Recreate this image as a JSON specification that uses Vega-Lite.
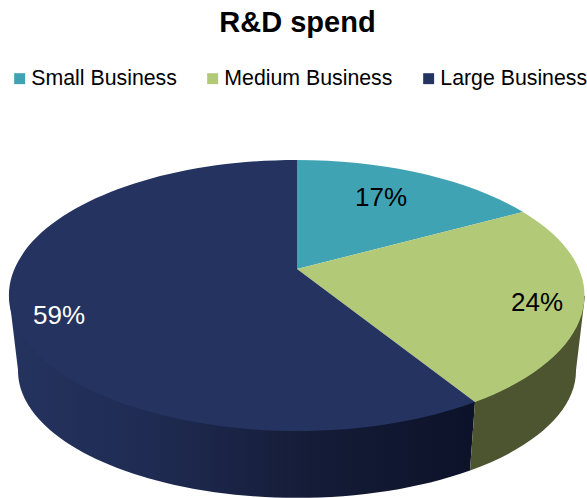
{
  "$schema": "https://vega.github.io/schema/vega-lite/v6.json",
  "width": 587,
  "height": 498,
  "padding": 0,
  "autosize": "none",
  "background": "white",
  "config": {"view": {"stroke": null}, "font": "Liberation Sans"},
  "title": {"text": "R&D spend", "font": "Liberation Sans", "fontSize": 29, "fontWeight": "bold", "color": "#000000", "anchor": "middle", "dx": 4, "offset": -61, "baseline": "alphabetic"},
  "data": {"values": [
    {"segment": "Small Business", "share": 0.17},
    {"segment": "Medium Business", "share": 0.24},
    {"segment": "Large Business", "share": 0.59}
  ]},
  "encoding": {
    "x": {"datum": 0, "type": "quantitative", "axis": null, "scale": {"domain": [-297, 290], "range": [0, 587], "nice": false, "zero": false}},
    "y": {"datum": 0, "type": "quantitative", "axis": null, "scale": {"domain": [-295.5, 202.5], "range": [0, 498], "nice": false, "zero": false}},
    "color": {"field": "segment", "type": "nominal",
      "scale": {"domain": ["Small Business", "Medium Business", "Large Business"], "range": ["#40a3b4", "#b2c978", "#24335f"]},
      "legend": {"title": null, "orient": "none", "legendX": 9, "legendY": 68, "direction": "horizontal", "columns": 3, "columnPadding": 25, "padding": 0,
        "symbolType": "square", "symbolSize": 120, "symbolOpacity": 1, "symbolStrokeWidth": 0, "labelFont": "Liberation Sans", "labelFontSize": 21.3, "labelColor": "#000000", "labelOffset": 1, "labelLimit": 300}}
  },
  "layer": [
    {
      "transform": [{"filter": "datum.segment === 'Large Business'"}],
      "mark": {"type": "point", "filled": true, "opacity": 1, "size": 4, "strokeWidth": 0,
        "shape": "M178,106.5 L-288,0 L-279,74.5 A279,127 0 0 0 173,175 Z"},
      "encoding": {"color": {"value": {"gradient": "linear", "x1": 0, "x2": 1, "y1": 0, "y2": 0, "stops": [
          {"offset": 0, "color": "#24335f"},
          {"offset": 0.3, "color": "#1f2b52"},
          {"offset": 0.65, "color": "#151c38"},
          {"offset": 1, "color": "#0c1228"}
        ]}}}
    },
    {
      "transform": [{"filter": "datum.segment === 'Medium Business'"}],
      "mark": {"type": "point", "filled": true, "opacity": 1, "size": 4, "strokeWidth": 0,
        "shape": "M178,106.5 L173,175 A279,127 0 0 0 279,74.5 L288,0 Z"},
      "encoding": {"color": {"value": "#4c5430"}}
    },
    {
      "transform": [{"filter": "datum.segment === 'Small Business'"}],
      "mark": {"type": "point", "filled": true, "opacity": 1, "size": 4, "strokeWidth": 0,
        "shape": "M0,-26.5 L0,-135.5 A288,135.5 0 0 1 226,-83.5 Z"}
    },
    {
      "transform": [{"filter": "datum.segment === 'Medium Business'"}],
      "mark": {"type": "point", "filled": true, "opacity": 1, "size": 4, "strokeWidth": 0,
        "shape": "M0,-26.5 L226,-83.5 A288,135.5 0 0 1 178,106.5 Z"}
    },
    {
      "transform": [{"filter": "datum.segment === 'Large Business'"}],
      "mark": {"type": "point", "filled": true, "opacity": 1, "size": 4, "strokeWidth": 0,
        "shape": "M0,-26.5 L178,106.5 A288,135.5 0 1 1 0,-135.5 Z"}
    },
    {
      "transform": [{"filter": "datum.segment === 'Small Business'"}],
      "mark": {"type": "text", "font": "Liberation Sans", "fontSize": 26, "align": "center", "baseline": "middle"},
      "encoding": {"color": {"value": "#000000"}, "x": {"datum": 84}, "y": {"datum": -98}, "text": {"field": "share", "type": "quantitative", "format": ".0%"}}
    },
    {
      "transform": [{"filter": "datum.segment === 'Medium Business'"}],
      "mark": {"type": "text", "font": "Liberation Sans", "fontSize": 26, "align": "center", "baseline": "middle"},
      "encoding": {"color": {"value": "#000000"}, "x": {"datum": 240}, "y": {"datum": 7}, "text": {"field": "share", "type": "quantitative", "format": ".0%"}}
    },
    {
      "transform": [{"filter": "datum.segment === 'Large Business'"}],
      "mark": {"type": "text", "font": "Liberation Sans", "fontSize": 26, "align": "center", "baseline": "middle"},
      "encoding": {"color": {"value": "#ffffff"}, "x": {"datum": -238}, "y": {"datum": 20.5}, "text": {"field": "share", "type": "quantitative", "format": ".0%"}}
    }
  ]
}
